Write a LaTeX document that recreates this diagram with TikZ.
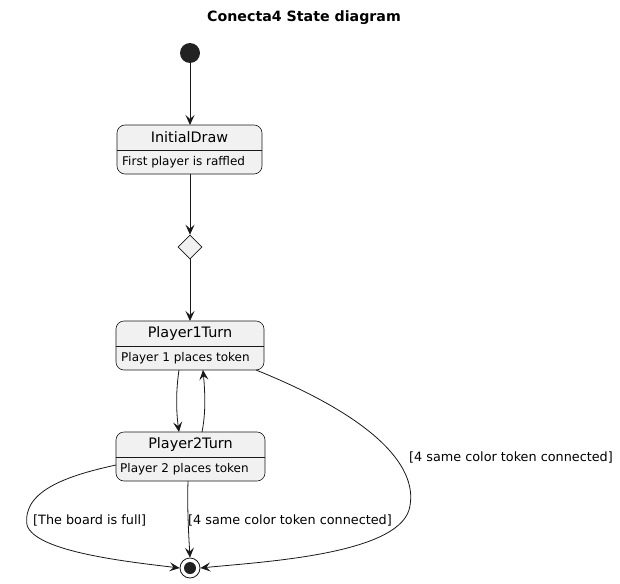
\documentclass[tikz,border=0pt]{standalone}
\usepackage{fontspec}
\setmainfont{DejaVu Sans}
\usetikzlibrary{arrows.meta,shapes.geometric}
\definecolor{boxfill}{HTML}{F1F1F1}
\definecolor{linec}{HTML}{181818}
\definecolor{dotc}{HTML}{222222}
\begin{document}
\begin{tikzpicture}[x=1pt,y=-1pt,
  statebox/.style={draw=linec,fill=boxfill,rounded corners=8pt,line width=0.6pt},
  conn/.style={draw=linec,line width=0.8pt,-{Stealth[length=10pt,width=9pt,inset=4pt]}},
  lbl/.style={font=\fontsize{12.8}{15}\selectfont,inner sep=0pt},
  sname/.style={font=\fontsize{14.4}{17}\selectfont,inner sep=0pt},
  sbody/.style={font=\fontsize{12}{14}\selectfont,inner sep=0pt,anchor=west}]
\useasboundingbox (0,0) rectangle (620,583);
% title
\node[font=\bfseries\fontsize{14.2}{17}\selectfont] (title) at (304,18) {Conecta4 State diagram};
% start
\node[circle,fill=dotc,minimum size=20pt,inner sep=0pt] (start) at (190,53) {};
% InitialDraw
\path[statebox] (117,125) rectangle (262,174);
\draw[linec,line width=0.6pt] (117,150) -- (262,150);
\node[sname] (idn) at (189.5,137.5) {InitialDraw};
\node[sbody] (idb) at (122,162) {First player is raffled};
\coordinate (idtop) at (190,125);
\coordinate (idbot) at (190,174);
% choice
\node[diamond,draw=linec,fill=boxfill,line width=0.6pt,minimum width=24pt,minimum height=24pt,inner sep=0pt,aspect=1] (ch) at (190,247) {};
% Player1Turn
\path[statebox] (116,321) rectangle (264,370);
\draw[linec,line width=0.6pt] (116,346) -- (264,346);
\node[sname] (p1n) at (190,333.5) {Player1Turn};
\node[sbody] (p1b) at (121,358) {Player 1 places token};
\coordinate (p1top) at (190,321);
% Player2Turn
\path[statebox] (116,432) rectangle (265,481);
\draw[linec,line width=0.6pt] (116,457) -- (265,457);
\node[sname] (p2n) at (190.5,444.5) {Player2Turn};
\node[sbody] (p2b) at (120,469) {Player 2 places token};
% end
\node[circle,draw=linec,fill=white,line width=0.8pt,minimum size=20pt,inner sep=0pt] (end) at (190,568) {};
\node[circle,fill=dotc,minimum size=12pt,inner sep=0pt] (endin) at (190,568) {};
% connectors
\draw[conn] (start) -- (idtop);
\draw[conn] (idbot) -- (ch.north);
\draw[conn] (ch.south) -- (p1top);
\coordinate (p1a) at (179,370);
\coordinate (p2a) at (179,432);
\draw[conn] (p1a) .. controls (176,390) and (176,410) .. (p2a);
\coordinate (p2b0) at (202,432);
\coordinate (p1b0) at (203,370);
\draw[conn] (p2b0) .. controls (206,412) and (205,392) .. (p1b0);
\coordinate (p1r) at (256,370);
\draw[conn] (p1r) .. controls (380,420) and (420,470) .. (409,510)
  .. controls (395,555) and (260,562) .. (end.east);
\node[lbl,anchor=west] (l1) at (409,457) {[4 same color token connected]};
\coordinate (p2bot) at (188,481);
\draw[conn] (p2bot) .. controls (187,510) and (189,540) .. (end.north);
\node[lbl,anchor=west] (l2) at (188,520) {[4 same color token connected]};
\coordinate (p2l) at (116,465);
\draw[conn] (p2l) .. controls (70,475) and (22,490) .. (27,525)
  .. controls (35,552) and (130,562) .. (end.west);
\node[lbl,anchor=west] (l3) at (33,520) {[The board is full]};
\end{tikzpicture}
\end{document}
